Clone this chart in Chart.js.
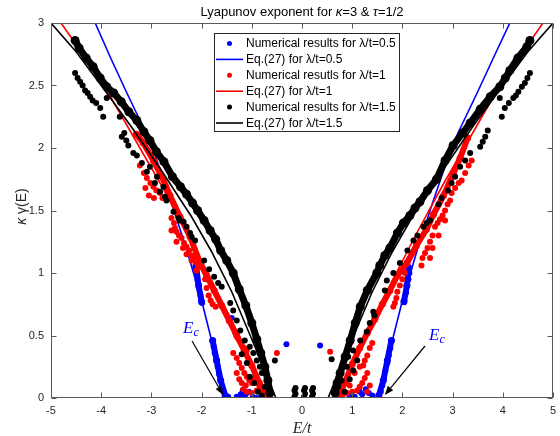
<!DOCTYPE html>
<html>
<head>
<meta charset="utf-8">
<script src="https://cdn.jsdelivr.net/npm/chart.js@4.4.0/dist/chart.umd.min.js"></script>
<style>
  html, body { margin: 0; padding: 0; background: #fff; }
</style>
</head>
<body>
<canvas id="chart" width="560" height="436"></canvas>
<script>
// axis ticks
const xTicks = [-5, -4, -3, -2, -1, 0, 1, 2, 3, 4, 5];
const yTicks = [0, 0.5, 1, 1.5, 2, 2.5, 3];

// Eq.(27) curves
const eqE05 = [-4.12,-3.8,-3.5,-3.0,-2.6,-2.3,-2.0,-1.8,-1.65,-1.55,1.55,1.65,1.8,2.0,2.3,2.6,3.0,3.5,3.8,4.14];
const eqK05 = [3.0,2.71,2.45,2.03,1.56,1.19,0.78,0.46,0.2,0,0,0.2,0.46,0.78,1.19,1.56,2.03,2.45,2.71,3.0];
const eqE1 = [-4.8,-4.4,-3.8,-3.2,-2.8,-2.3,-1.8,-1.4,-1.0,-0.7,0.7,1.0,1.4,1.8,2.3,2.8,3.2,3.8,4.4,4.8];
const eqK1 = [3.0,2.77,2.4,1.98,1.7,1.33,0.94,0.62,0.28,0,0,0.28,0.62,0.94,1.33,1.7,1.98,2.4,2.77,3.0];
const eqE15 = [-5.0,-4.5,-4.0,-3.4,-2.8,-2.2,-1.8,-1.4,-1.0,-0.7,-0.52,0.52,0.7,1.0,1.4,1.8,2.2,2.8,3.4,4.0,4.5,5.0];
const eqK15 = [3.0,2.77,2.5,2.17,1.82,1.45,1.17,0.85,0.47,0.18,0,0,0.18,0.47,0.85,1.17,1.45,1.82,2.17,2.5,2.77,3.0];

// numerical results, lambda/t = 0.5
const numE05 = [-2.12,-2.10,-2.08,-2.05,-2.02,-1.99, -1.78,-1.76,-1.74,-1.71,-1.68,-1.65,-1.62,-1.59,-1.56,-1.52,-1.47,
  -1.40,-0.31,0.36,1.45, -1.30,-1.22,-1.18,-1.12,-1.06,-0.98,-1.15,-0.90, 0.95,1.05,1.15,1.20,1.27,1.33,1.40,
  1.53,1.57,1.60,1.63,1.66,1.70,1.73,1.76,1.79, 2.04,2.07,2.09,2.12,2.14,2.12];
const numK05 = [1.06,1.00,0.94,0.88,0.82,0.76, 0.46,0.41,0.36,0.30,0.25,0.19,0.14,0.09,0.05,0.02,0.01,
  0.64,0.43,0.42,0.64, 0.01,0.03,0.06,0.03,0.05,0.01,0.01,0.00, 0.01,0.01,0.05,0.03,0.07,0.04,0.02,
  0.02,0.05,0.10,0.16,0.22,0.28,0.34,0.40,0.46, 0.78,0.84,0.90,0.95,1.00,1.05];
const bandE05 = [-2.11,-2.06,-2.00,null,-1.78,-1.70,-1.62,-1.53,null,1.53,1.62,1.70,1.78,null,2.03,2.09,2.13];
const bandK05 = [1.05,0.90,0.77,null,0.46,0.30,0.14,0.02,null,0.02,0.14,0.30,0.46,null,0.77,0.90,1.04];

// numerical results, lambda/t = 1
const numE1 = [-3.23,-3.15,-3.09,-3.02,-2.96,-2.90,-2.83,-2.78,-2.73,-3.12,-3.05,-2.95,
  -2.60,-2.55,-2.53,-2.50,-2.45,-2.40,-2.35,-2.30,-2.25,-2.20,-2.15,-2.10,-2.07,-2.60,-2.50,-2.37,-2.30,-2.20,-2.10,
  -1.93,-1.90,-1.86,-1.82,-1.78,-1.72,
  -1.33,-1.28,-1.20,-1.15,-1.10,
  -1.37,-1.30,-1.25,-1.20,-1.15,-1.10,-1.05,-1.00,-0.95,-1.30,-1.20,-1.25,
  -1.17,-1.10,-1.00,-0.90,-0.80,-0.72,-0.85,-1.12,
  -0.50,0.56,
  3.18,3.25,3.32,3.38,3.05,3.12,2.98,2.95,2.90,2.85,2.80,2.75,2.70,2.65,2.60,2.55,2.50,2.45,2.40,2.38,2.55,2.60,2.72,2.85,
  1.95,1.90,1.88,1.85,1.82,2.00,2.05,
  1.40,1.35,1.30,1.25,1.22,
  1.30,1.25,1.20,1.15,1.10,1.00,0.95,0.90,1.05,1.15,0.82,0.78,0.90,1.35,1.30];
const numK1 = [1.86,1.80,1.76,1.72,1.69,1.66,1.64,1.60,1.60,1.68,1.62,1.60,
  1.44,1.40,1.36,1.33,1.30,1.28,1.24,1.21,1.18,1.14,1.12,1.08,1.05,1.34,1.25,1.20,1.15,1.10,1.02,
  0.95,0.88,0.82,0.78,0.75,0.73,
  0.52,0.48,0.45,0.40,0.38,
  0.36,0.32,0.28,0.24,0.20,0.17,0.14,0.12,0.16,0.20,0.12,0.15,
  0.07,0.05,0.04,0.06,0.03,0.01,0.10,0.10,
  0.36,0.37,
  1.74,1.80,1.86,1.90,1.68,1.72,1.64,1.58,1.55,1.50,1.46,1.43,1.40,1.37,1.30,1.25,1.20,1.16,1.12,1.06,1.12,1.20,1.30,1.42,
  0.90,0.85,0.80,0.76,0.73,0.95,1.00,
  0.44,0.40,0.34,0.30,0.26,
  0.20,0.16,0.12,0.09,0.06,0.05,0.10,0.14,0.20,0.25,0.03,0.01,0.04,0.10,0.05];
const bandE1 = [-3.30,-3.16,-2.96,-2.79,-2.63,-2.43,-2.23,-2.03,-1.90,-1.75,-1.60,-1.45,-1.30,-1.15,-1.00,-0.85,-0.75, null,
  0.75,0.85,1.00,1.15,1.30,1.45,1.60,1.75,1.90,2.09,2.28,2.48,2.62,2.82,3.01,3.15,3.30];
const bandK1 = [2.11,2.04,1.90,1.77,1.62,1.45,1.29,1.08,0.98,0.86,0.74,0.62,0.50,0.38,0.26,0.12,0.03, null,
  0.03,0.12,0.27,0.40,0.52,0.63,0.75,0.86,0.98,1.08,1.22,1.35,1.47,1.62,1.79,1.92,2.08];

// numerical results, lambda/t = 1.5
const numE15 = [-4.52,-4.47,-4.42,-4.37,-4.32,-4.27,-4.22,-4.17,-4.10,-4.02,-3.96,-3.89,-3.63,-3.59,-3.54,-3.50,-3.46,
  -3.36,-3.29,-3.19,-3.09,-3.03,-2.93,-2.89,-2.83,-2.76,-2.73,-2.70,-2.56,-2.46,-2.43,-2.36,-2.30,-2.23,-2.20,-2.13,
  -1.95,-1.85,-1.75,-1.67,-1.60,-1.43,-1.37,-1.30,-1.23,-1.14,-1.04,-0.97,-0.90,-0.84,-0.80,-0.70,-0.74,-1.04,-0.95,-0.88,-0.80,-1.10,-1.20,
  -0.15,-0.13,-0.15,-0.13,0.04,0.06,0.04,0.06,0.20,0.22,0.20,0.22,
  -0.54,0.59,
  4.54,4.49,4.44,4.38,4.31,4.26,4.21,4.12,4.04,3.98,3.94,3.70,3.65,3.60,3.55,
  3.35,3.25,3.15,3.05,2.98,2.91,2.78,2.72,2.55,2.48,2.42,2.30,2.22,
  2.10,1.95,1.82,1.69,1.65,1.42,1.44,1.35,1.29,1.16,1.02,0.92,0.89,0.79,0.72,1.02,0.95,0.85,1.10];
const numK15 = [2.60,2.56,2.53,2.50,2.46,2.44,2.41,2.38,2.36,2.32,2.25,2.40,2.25,2.09,2.12,2.06,2.02,
  1.96,1.94,1.88,1.81,1.85,1.72,1.77,1.65,1.69,1.61,1.58,1.49,1.44,1.42,1.41,1.37,1.32,1.29,1.26,
  1.10,1.03,0.97,0.92,0.89,0.76,0.70,0.62,0.54,0.46,0.41,0.36,0.30,0.25,0.20,0.14,0.09,0.17,0.12,0.05,0.02,0.28,0.35,
  0.01,0.035,0.06,0.08,0.01,0.035,0.06,0.08,0.01,0.035,0.06,0.08,
  0.30,0.31,
  2.60,2.56,2.52,2.49,2.45,2.42,2.40,2.36,2.32,2.25,2.40,2.14,2.09,2.05,2.01,
  1.96,1.90,1.85,1.77,1.72,1.66,1.60,1.55,1.42,1.40,1.37,1.30,1.26,
  1.18,1.08,1.00,0.94,0.86,0.69,0.66,0.60,0.53,0.46,0.38,0.33,0.25,0.14,0.09,0.22,0.15,0.05,0.30];
const bandE15 = [-4.52,-4.44,-4.30,-4.16,-4.02,-3.89,-3.75,-3.60,-3.45,-3.29,-3.15,-3.03,-2.90,-2.75,-2.58,-2.42,-2.30,-2.18,-2.08,-1.95,
  -1.83,-1.72,-1.62,-1.50,-1.37,-1.25,-1.12,-1.00,-0.90,-0.82,-0.74,-0.68,-0.64, null,
  0.66,0.70,0.76,0.86,0.96,1.06,1.16,1.30,1.49,1.55,1.65,1.75,1.90,2.02,2.15,2.25,2.35,2.50,2.68,2.85,3.01,3.20,3.35,3.55,3.75,3.94,4.05,4.14,4.30,4.48,4.54];
const bandK15 = [2.86,2.80,2.72,2.65,2.56,2.49,2.44,2.37,2.29,2.22,2.13,2.06,1.97,1.89,1.77,1.69,1.63,1.56,1.50,1.42,
  1.34,1.27,1.18,1.10,1.00,0.87,0.74,0.60,0.47,0.36,0.25,0.14,0.04, null,
  0.04,0.12,0.20,0.33,0.46,0.60,0.73,0.86,1.00,1.06,1.14,1.20,1.32,1.40,1.46,1.52,1.57,1.66,1.75,1.90,2.02,2.12,2.20,2.31,2.41,2.49,2.56,2.62,2.72,2.81,2.86];

const FONT = '"Liberation Sans", Arial, sans-serif';
const SERIF = '"Liberation Serif", "Times New Roman", serif';
const AXIS_COLOR = '#262626';

function toPts(xs, ys) {
  return xs.map((x, i) => x === null ? {x: null, y: null} : {x: x, y: ys[i]});
}

function pointSet(label, xs, ys, color, order, row) {
  return {label: label, data: toPts(xs, ys), backgroundColor: color, borderColor: color,
    pointRadius: 3, pointBorderWidth: 0, showLine: false, order: order, legendRow: row, kind: 'pts'};
}
// dense runs of markers: a thick line with a blob on every vertex
function bandSet(xs, ys, color, width, blob, order) {
  return {label: '', data: toPts(xs, ys), borderColor: color, backgroundColor: color, borderWidth: width,
    pointRadius: blob, pointBorderWidth: 0, showLine: true, borderCapStyle: 'round', borderJoinStyle: 'round', order: order};
}
function curveSet(label, xs, ys, color, order, row) {
  return {label: label, data: toPts(xs, ys), borderColor: color, backgroundColor: color, borderWidth: 1.6,
    pointRadius: 0, showLine: true, order: order, legendRow: row, kind: 'line'};
}

function drawArrow(ctx, x1, y1, x2, y2) {
  const ang = Math.atan2(y2 - y1, x2 - x1);
  const len = 9, w = 3.5;
  const bx = x2 - len * Math.cos(ang), by = y2 - len * Math.sin(ang);
  ctx.beginPath();
  ctx.moveTo(x1, y1);
  ctx.lineTo(bx, by);
  ctx.stroke();
  ctx.beginPath();
  ctx.moveTo(x2, y2);
  ctx.lineTo(bx + w * Math.sin(ang), by - w * Math.cos(ang));
  ctx.lineTo(bx - w * Math.sin(ang), by + w * Math.cos(ang));
  ctx.closePath();
  ctx.fill();
}

function drawRuns(ctx, runs, x, y, align) {
  let total = 0;
  runs.forEach(r => { ctx.font = r.font; total += ctx.measureText(r.t).width; });
  let cx = align === 'center' ? x - total / 2 : x;
  runs.forEach(r => {
    ctx.font = r.font;
    ctx.fillText(r.t, cx, y + (r.dy || 0));
    cx += ctx.measureText(r.t).width;
  });
}

const decor = {
  id: 'decor',
  afterDraw(chart) {
    const ctx = chart.ctx;
    const a = chart.chartArea;
    const xs = chart.scales.x, ys = chart.scales.y;
    const L = Math.round(a.left) + 0.5, R = Math.round(a.right) - 0.5;
    const T = Math.round(a.top) + 0.5, B = Math.round(a.bottom) - 0.5;
    ctx.save();

    // box with inward ticks
    ctx.strokeStyle = '#5a5a5a';
    ctx.lineWidth = 1;
    ctx.strokeRect(L, T, R - L, B - T);
    ctx.beginPath();
    xTicks.forEach(v => {
      const px = Math.round(xs.getPixelForValue(v)) + 0.5;
      ctx.moveTo(px, B); ctx.lineTo(px, B - 5);
      ctx.moveTo(px, T); ctx.lineTo(px, T + 5);
    });
    yTicks.forEach(v => {
      const py = Math.round(ys.getPixelForValue(v)) + 0.5;
      ctx.moveTo(L, py); ctx.lineTo(L + 5, py);
      ctx.moveTo(R, py); ctx.lineTo(R - 5, py);
    });
    ctx.stroke();

    // title
    ctx.fillStyle = '#000';
    ctx.textBaseline = 'alphabetic';
    const tf = '13px ' + FONT, ti = 'italic 13px ' + FONT;
    drawRuns(ctx, [{t: 'Lyapunov exponent for ', font: tf}, {t: 'κ', font: ti}, {t: '=3 & ', font: tf},
      {t: 'τ', font: ti}, {t: '=1/2', font: tf}], (a.left + a.right) / 2, 16, 'center');

    // axis titles
    ctx.fillStyle = AXIS_COLOR;
    drawRuns(ctx, [{t: 'E/t', font: 'italic 16px ' + SERIF}], (a.left + a.right) / 2, 433, 'center');
    ctx.save();
    ctx.translate(26, (a.top + a.bottom) / 2 - 4);
    ctx.rotate(-Math.PI / 2);
    drawRuns(ctx, [{t: 'κ', font: 'italic 14px ' + FONT}, {t: ' γ(E)', font: '14px ' + FONT}], 0, 0, 'center');
    ctx.restore();

    // E_c annotations
    ctx.fillStyle = '#0000ff';
    const ecL = [xs.getPixelForValue(-2.37), ys.getPixelForValue(0.52)];
    const ecR = [xs.getPixelForValue(2.53), ys.getPixelForValue(0.465)];
    [ecL, ecR].forEach(p => {
      drawRuns(ctx, [{t: 'E', font: 'italic 17px ' + SERIF}, {t: 'c', font: 'italic 12px ' + SERIF, dy: 3}], p[0], p[1], 'left');
    });
    ctx.strokeStyle = '#000';
    ctx.fillStyle = '#000';
    ctx.lineWidth = 1.2;
    drawArrow(ctx, xs.getPixelForValue(-2.19), ys.getPixelForValue(0.456), xs.getPixelForValue(-1.57), ys.getPixelForValue(0.024));
    drawArrow(ctx, xs.getPixelForValue(2.45), ys.getPixelForValue(0.416), xs.getPixelForValue(1.65), ys.getPixelForValue(0.024));

    // legend box
    const items = chart.data.datasets.filter(d => d.legendRow !== undefined)
      .sort((p, q) => p.legendRow - q.legendRow);
    const bx = 214.5, by = 33.5, bw = 185, bh = 98;
    ctx.fillStyle = '#fff';
    ctx.fillRect(bx, by, bw, bh);
    ctx.strokeStyle = AXIS_COLOR;
    ctx.lineWidth = 1;
    ctx.strokeRect(bx, by, bw, bh);
    ctx.textBaseline = 'middle';
    ctx.font = '12px ' + FONT;
    items.forEach((d, i) => {
      const ry = 43.5 + i * 15.9;
      if (d.kind === 'line') {
        ctx.strokeStyle = d.borderColor;
        ctx.lineWidth = 1.6;
        ctx.beginPath(); ctx.moveTo(216, ry); ctx.lineTo(243, ry); ctx.stroke();
      } else {
        ctx.fillStyle = d.backgroundColor;
        ctx.beginPath(); ctx.arc(229.5, ry, 2.5, 0, Math.PI * 2); ctx.fill();
      }
      ctx.fillStyle = '#000';
      ctx.fillText(d.label, 246, ry + 0.5);
    });
    ctx.restore();
  }
};

const ctx = document.getElementById('chart').getContext('2d');
const chart = new Chart(ctx, {
  type: 'scatter',
  data: {
    datasets: [
      curveSet('Eq.(27) for λ/t=1.5', eqE15, eqK15, '#000000', 1, 5),
      pointSet('Numerical results for λ/t=1.5', numE15, numK15, '#000000', 2, 4),
      bandSet(bandE15, bandK15, '#000000', 7, 4.5, 2),
      curveSet('Eq.(27) for λ/t=1', eqE1, eqK1, '#ff0000', 3, 3),
      pointSet('Numerical resutls for λ/t=1', numE1, numK1, '#ff0000', 4, 2),
      bandSet(bandE1, bandK1, '#ff0000', 6, 3.5, 4),
      curveSet('Eq.(27) for λ/t=0.5', eqE05, eqK05, '#0000ff', 5, 1),
      pointSet('Numerical results for λ/t=0.5', numE05, numK05, '#0000ff', 6, 0),
      bandSet(bandE05, bandK05, '#0000ff', 6, 3.5, 6)
    ]
  },
  options: {
    responsive: false,
    animation: false,
    devicePixelRatio: 1,
    layout: { padding: { top: 23, right: 7, left: 0, bottom: 0 } },
    plugins: {
      legend: { display: false },
      title: { display: false },
      tooltip: { enabled: false }
    },
    scales: {
      x: {
        type: 'linear',
        min: -5,
        max: 5,
        afterBuildTicks: s => { s.ticks = xTicks.map(v => ({value: v})); },
        afterFit: s => { s.height = 38; s.paddingLeft = 0; s.paddingRight = 0; },
        grid: { display: false, drawTicks: false },
        border: { display: false },
        ticks: {
          font: { family: FONT, size: 11 },
          color: AXIS_COLOR,
          padding: 6,
          maxRotation: 0,
          autoSkip: false,
          callback: v => String(v)
        }
      },
      y: {
        type: 'linear',
        min: 0,
        max: 3,
        afterBuildTicks: s => { s.ticks = yTicks.map(v => ({value: v})); },
        afterFit: s => { s.width = 51; s.paddingTop = 0; s.paddingBottom = 0; },
        grid: { display: false, drawTicks: false },
        border: { display: false },
        ticks: {
          font: { family: FONT, size: 11 },
          color: AXIS_COLOR,
          padding: 7,
          autoSkip: false,
          callback: v => String(v)
        }
      }
    }
  },
  plugins: [decor]
});
</script>
</body>
</html>
